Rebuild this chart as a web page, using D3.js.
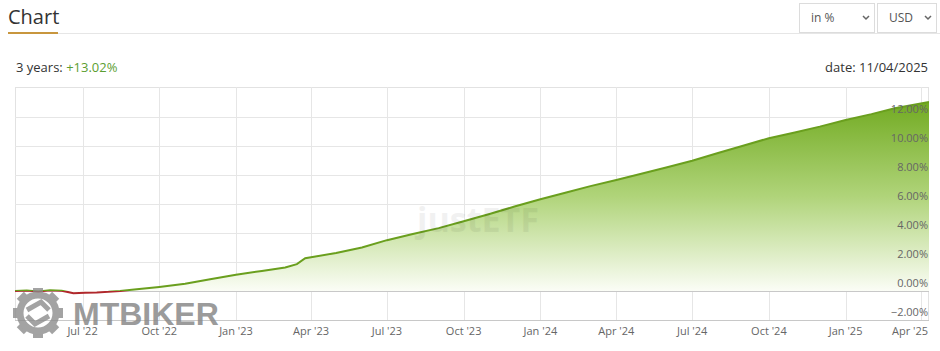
<!DOCTYPE html>
<html>
<head>
<meta charset="utf-8">
<script src="https://cdn.jsdelivr.net/npm/d3@7"></script>
<style>
  body { margin: 0; background: #fff; font-family: "Open Sans", sans-serif; }
</style>
</head>
<body>
<script>
let w = 940;
let h = 351;

// performance in %
const dates = ['2022-04-11', '2022-04-25', '2022-05-09', '2022-05-23', '2022-06-06', '2022-06-20',
  '2022-07-04', '2022-07-18', '2022-08-01', '2022-08-15', '2022-09-01', '2022-10-01', '2022-11-01',
  '2022-12-01', '2023-01-01', '2023-02-01', '2023-03-01', '2023-03-15', '2023-03-25', '2023-04-01',
  '2023-05-01', '2023-06-01', '2023-07-01', '2023-08-01', '2023-09-01', '2023-10-01', '2023-11-01',
  '2023-12-01', '2024-01-01', '2024-02-01', '2024-03-01', '2024-04-01', '2024-05-01', '2024-06-01',
  '2024-07-01', '2024-08-01', '2024-09-01', '2024-10-01', '2024-11-01', '2024-12-01', '2025-01-01',
  '2025-02-01', '2025-03-01', '2025-04-11'];
const values = [0.00, 0.03, -0.03, 0.05, 0.02, -0.15,
  -0.12, -0.10, -0.06, 0.00, 0.10, 0.28, 0.50,
  0.80, 1.12, 1.38, 1.62, 1.85, 2.25, 2.32,
  2.62, 3.00, 3.50, 3.92, 4.33, 4.80, 5.30,
  5.82, 6.32, 6.78, 7.22, 7.65, 8.08, 8.52,
  8.97, 9.50, 10.02, 10.52, 10.92, 11.32, 11.78,
  12.18, 12.58, 13.02];
const xTicks = ['2022-07-01', '2022-10-01', '2023-01-01', '2023-04-01', '2023-07-01', '2023-10-01',
  '2024-01-01', '2024-04-01', '2024-07-01', '2024-10-01', '2025-01-01', '2025-04-01'];
const yTicks = [-2, 0, 2, 4, 6, 8, 10, 12];

const parse = d3.timeParse('%Y-%m-%d');
const data = dates.map((d, i) => ({ date: parse(d), value: values[i] }));

const svg = d3.select('body')
  .append('svg')
  .attr('width', w)
  .attr('height', h)
  .style('display', 'block');

// header
svg.append('text').attr('x', 8).attr('y', 24)
  .text('Chart').style('font-size', '20px').style('fill', '#333');
svg.append('rect').attr('x', 8).attr('y', 33).attr('width', w - 8).attr('height', 1).attr('fill', '#e6e6e6');
svg.append('rect').attr('x', 8).attr('y', 32).attr('width', 50).attr('height', 2).attr('fill', '#c8963e');

const boxes = [{ x: 799, w: 75, t: 'in %' }, { x: 877, w: 59, t: 'USD' }];
boxes.forEach(b => {
  svg.append('rect').attr('x', b.x + 0.5).attr('y', 3.5).attr('width', b.w).attr('height', 29)
    .attr('fill', '#fff').attr('stroke', '#dcdcdc');
  svg.append('text').attr('x', b.x + 12).attr('y', 22).text(b.t)
    .style('font-size', '12px').style('fill', '#555');
  const cx = b.x + b.w - 8;
  svg.append('path').attr('d', `M${cx - 3},16 L${cx},19 L${cx + 3},16`)
    .attr('fill', 'none').attr('stroke', '#666').attr('stroke-width', 1.5);
});

const sub = svg.append('text').attr('x', 16).attr('y', 72).style('font-size', '13px');
sub.append('tspan').text('3 years: ').style('fill', '#333');
sub.append('tspan').text('+13.02%').style('fill', '#5c9e31');
svg.append('text').attr('x', 928).attr('y', 72).attr('text-anchor', 'end')
  .text('date: 11/04/2025').style('font-size', '13px').style('fill', '#333');

// plot
const pLeft = 15, pRight = 929, pTop = 87, pBottom = 320;
const x = d3.scaleTime().domain([parse('2022-04-11'), parse('2025-04-11')]).range([pLeft, pRight]);
const y = d3.scaleLinear().domain([-2, 14.05]).range([pBottom, pTop]);

svg.append('rect').attr('x', pLeft + 0.5).attr('y', pTop + 0.5)
  .attr('width', pRight - pLeft - 1).attr('height', pBottom - pTop)
  .attr('fill', 'none').attr('stroke', '#e2e2e2');

svg.append('g').selectAll('line').data(xTicks).enter().append('line')
  .attr('x1', d => Math.round(x(parse(d))) + 0.5).attr('x2', d => Math.round(x(parse(d))) + 0.5)
  .attr('y1', pTop).attr('y2', pBottom).attr('stroke', '#e6e6e6');
svg.append('g').selectAll('line').data(yTicks).enter().append('line')
  .attr('x1', pLeft).attr('x2', pRight)
  .attr('y1', d => Math.round(y(d)) + 0.5).attr('y2', d => Math.round(y(d)) + 0.5)
  .attr('stroke', d => (d === 0 || d === -2) ? '#c8c8c8' : '#e6e6e6');

const defs = svg.append('defs');
const grad = defs.append('linearGradient').attr('id', 'fillGrad')
  .attr('gradientUnits', 'userSpaceOnUse')
  .attr('x1', 0).attr('x2', 0).attr('y1', y(13)).attr('y2', y(0));
grad.append('stop').attr('offset', '0%').attr('stop-color', '#72ab22');
grad.append('stop').attr('offset', '50%').attr('stop-color', '#b0d47a');
grad.append('stop').attr('offset', '100%').attr('stop-color', '#fbfdf6');

defs.append('clipPath').attr('id', 'above').append('rect')
  .attr('x', pLeft).attr('y', pTop).attr('width', pRight - pLeft).attr('height', y(0) - pTop);
defs.append('clipPath').attr('id', 'below').append('rect')
  .attr('x', pLeft).attr('y', y(0)).attr('width', pRight - pLeft).attr('height', pBottom - y(0));

const area = d3.area().x(d => x(d.date)).y0(y(0)).y1(d => y(d.value));
const line = d3.line().x(d => x(d.date)).y(d => y(d.value));

svg.append('path').datum(data).attr('d', area).attr('fill', 'url(#fillGrad)');
svg.append('path').datum(data).attr('d', line).attr('fill', 'none')
  .attr('stroke', '#6a9f1e').attr('stroke-width', 2).attr('clip-path', 'url(#above)');
svg.append('path').datum(data).attr('d', line).attr('fill', 'none')
  .attr('stroke', '#b0282c').attr('stroke-width', 2).attr('clip-path', 'url(#below)');

// axis labels
svg.append('g').selectAll('text').data(yTicks).enter().append('text')
  .attr('x', 928).attr('y', d => y(d) - 4).attr('text-anchor', 'end')
  .text(d => d3.format('.2f')(d) + '%')
  .style('font-size', '11px').style('fill', '#666');

const fmt = d3.timeFormat("%b '%y");
svg.append('g').selectAll('text').data(xTicks).enter().append('text')
  .attr('x', (d, i) => i === xTicks.length - 1 ? 928 : x(parse(d)))
  .attr('y', 335)
  .attr('text-anchor', (d, i) => i === xTicks.length - 1 ? 'end' : 'middle')
  .text(d => fmt(parse(d)))
  .style('font-size', '11px').style('fill', '#666');

// watermarks
svg.append('text').attr('x', 478).attr('y', 232).attr('text-anchor', 'middle')
  .text('justETF').style('font-size', '34px').style('font-weight', 'bold')
  .style('fill', '#000').style('opacity', 0.05);

const gear = svg.append('g').attr('transform', 'translate(38,313)').style('opacity', 0.78);
d3.range(8).forEach(i => {
  gear.append('rect').attr('x', -5).attr('y', -25).attr('width', 10).attr('height', 9)
    .attr('fill', '#8a8a8a').attr('transform', `rotate(${i * 45})`);
});
gear.append('circle').attr('r', 18).attr('fill', 'none').attr('stroke', '#8a8a8a').attr('stroke-width', 7);
gear.append('path').attr('d', 'M-11,-3 L3,-11 L11,-3 M11,3 L-3,11 L-11,3')
  .attr('fill', 'none').attr('stroke', '#8a8a8a').attr('stroke-width', 5);

svg.append('text').attr('x', 73).attr('y', 325)
  .text('MTBIKER').style('font-family', 'Liberation Sans, Arial, sans-serif')
  .style('font-size', '32px').style('font-weight', 'bold')
  .style('fill', '#8a8a8a').style('opacity', 0.85);
</script>
</body>
</html>
